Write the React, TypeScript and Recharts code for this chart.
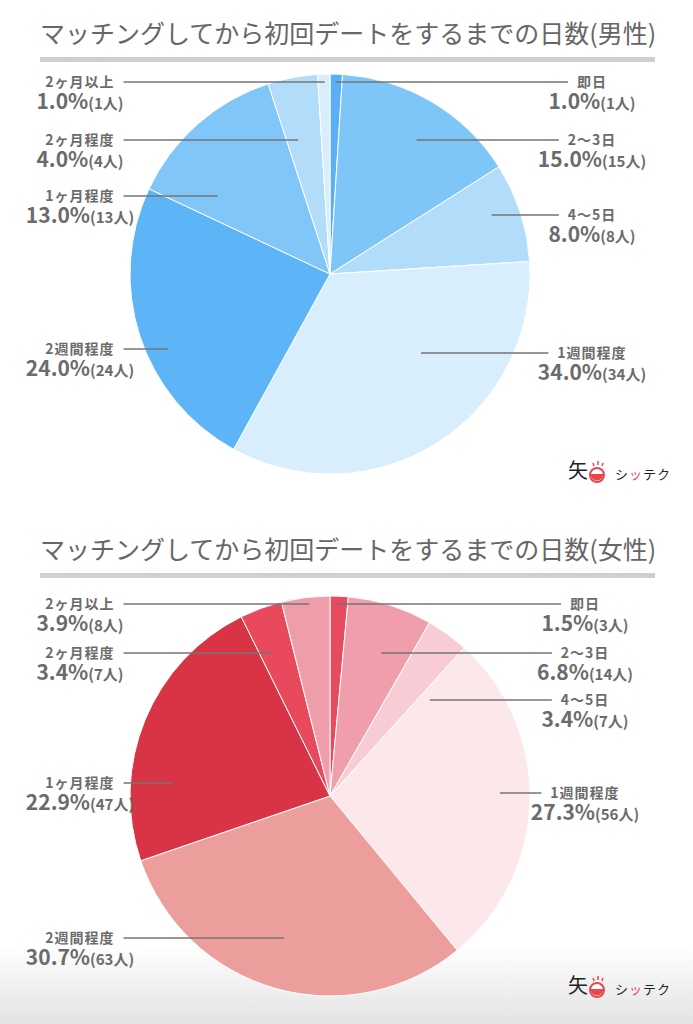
import React from 'react';
import { PieChart, Pie, Cell } from 'recharts';

// categories, clockwise from 12 o'clock
const CATEGORIES = ['即日', '2〜3日', '4〜5日', '1週間程度', '2週間程度', '1ヶ月程度', '2ヶ月程度', '2ヶ月以上'];

// number of people per category
const MALE_COUNTS = [1, 15, 8, 34, 24, 13, 4, 1];
const FEMALE_COUNTS = [3, 14, 7, 56, 63, 47, 7, 8];

const MALE_COLORS = ['#5aaff6', '#7fc6f8', '#b1dcfa', '#d9eefd', '#5db4f7', '#80c6f8', '#b2ddfa', '#d9eefc'];
const FEMALE_COLORS = ['#e84a5f', '#f09eab', '#f8ccd4', '#fce7ea', '#eb9e9b', '#d93445', '#e8495c', '#f09daa'];

// vertical offset of each label (leader line) from the pie centre
const MALE_LABEL_DY = [-192, -134, -59, 79, 75, -78, -134, -192];
const FEMALE_LABEL_DY = [-192, -143, -96, -3, 142, -13, -143, -192];

const FONT = "'Noto Sans CJK JP', 'Noto Sans', sans-serif";
const TEXT_COLOR = '#6b6b6b';
const RAD = Math.PI / 180;
const LEFT_X = 80;

const textWidth = (s: string, size: number, spacing = 0) =>
  s.split('').reduce((w, ch) => w + (/[0-9]/.test(ch) ? size * 0.58 : size) + spacing, 0);

const makeLabel = (counts: number[], labelDy: number[], rightX: number) => {
  const total = counts.reduce((a, b) => a + b, 0);
  return (props: any) => {
    const { cx, cy, midAngle, outerRadius, index } = props;
    const cos = Math.cos(midAngle * RAD);
    const isRight = cos >= 0;
    const y = cy + labelDy[index];
    const name = CATEGORIES[index];
    const pct = ((counts[index] / total) * 100).toFixed(1);
    const tx = isRight ? rightX : LEFT_X;
    const half = textWidth(name, 14, 1) / 2;
    const outerX = isRight ? tx - half - 9 : tx + half + 9;
    const innerX = cx + outerRadius * 0.85 * cos;
    return (
      <g key={`lbl-${index}`}>
        <line x1={innerX} y1={y} x2={outerX} y2={y} stroke="#747474" strokeWidth={1.5} />
        <text
          x={tx}
          y={y + 5}
          textAnchor="middle"
          fontFamily={FONT}
          fontWeight={700}
          fontSize={14}
          letterSpacing={1}
          fill={TEXT_COLOR}
        >
          {name}
        </text>
        <text x={tx} y={y + 27} textAnchor="middle" fontFamily={FONT} fontWeight={700} fill={TEXT_COLOR}>
          <tspan fontSize={21}>{pct}%</tspan>
          <tspan fontSize={15}>({counts[index]}人)</tspan>
        </text>
      </g>
    );
  };
};

const Title = ({ top, text }: { top: number; text: string }) => (
  <>
    <div
      style={{
        position: 'absolute',
        left: 40,
        top,
        width: 640,
        fontFamily: FONT,
        fontSize: 25,
        lineHeight: '32px',
        color: '#666',
        whiteSpace: 'nowrap',
      }}
    >
      {text}
    </div>
    <div
      style={{
        position: 'absolute',
        left: 40,
        top: top + 41,
        width: 615,
        height: 5,
        background: '#cfcfcf',
      }}
    />
  </>
);

const Logo = ({ top }: { top: number }) => (
  <svg style={{ position: 'absolute', left: 560, top }} width={110} height={36}>
    <text x={8} y={28} fontSize={20} fontFamily={FONT} fill="#222">
      矢
    </text>
    <circle cx={37} cy={25} r={7} fill="#fff" stroke="#e8474c" strokeWidth={2} />
    <path d="M30.5,24 A6.5,6.5 0 0 0 43.5,24 Z" fill="#e8474c" />
    <line x1={33} y1={13} x2={34} y2={16} stroke="#e8474c" strokeWidth={1.5} />
    <line x1={38} y1={11} x2={38} y2={15} stroke="#e8474c" strokeWidth={1.5} />
    <line x1={43} y1={13} x2={42} y2={16} stroke="#e8474c" strokeWidth={1.5} />
    <text x={55} y={29} fontSize={13} letterSpacing={1} fontFamily={FONT} fill="#222">
      シ<tspan fill="#e8474c">ッ</tspan>テク
    </text>
  </svg>
);

const GenderPie = ({
  counts,
  colors,
  labelDy,
  rightX,
  top,
}: {
  counts: number[];
  colors: string[];
  labelDy: number[];
  rightX: number;
  top: number;
}) => {
  const data = CATEGORIES.map((name, i) => ({ name, value: counts[i] }));
  return (
    <div style={{ position: 'absolute', left: 0, top }}>
      <PieChart width={693} height={512} margin={{ top: 0, right: 0, bottom: 0, left: 0 }}>
        <Pie
          data={data}
          dataKey="value"
          nameKey="name"
          cx={330}
          cy={274}
          outerRadius={200}
          startAngle={90}
          endAngle={-270}
          stroke="#fff"
          strokeWidth={1}
          labelLine={false}
          label={makeLabel(counts, labelDy, rightX)}
          isAnimationActive={false}
        >
          {data.map((d, i) => (
            <Cell key={d.name} fill={colors[i]} />
          ))}
        </Pie>
      </PieChart>
    </div>
  );
};

export default function App() {
  return (
    <div
      style={{
        position: 'absolute',
        left: 0,
        top: 0,
        width: 693,
        height: 1024,
        overflow: 'hidden',
        background: '#fff',
      }}
    >
      <div
        style={{
          position: 'absolute',
          left: 0,
          top: 945,
          width: 693,
          height: 79,
          background: 'linear-gradient(#ffffff, #e3e3e3)',
        }}
      />
      <Title top={16} text="マッチングしてから初回デートをするまでの日数(男性)" />
      <GenderPie counts={MALE_COUNTS} colors={MALE_COLORS} labelDy={MALE_LABEL_DY} rightX={592} top={0} />
      <Logo top={450} />
      <Title top={532} text="マッチングしてから初回デートをするまでの日数(女性)" />
      <GenderPie counts={FEMALE_COUNTS} colors={FEMALE_COLORS} labelDy={FEMALE_LABEL_DY} rightX={585} top={522} />
      <Logo top={965} />
    </div>
  );
}
